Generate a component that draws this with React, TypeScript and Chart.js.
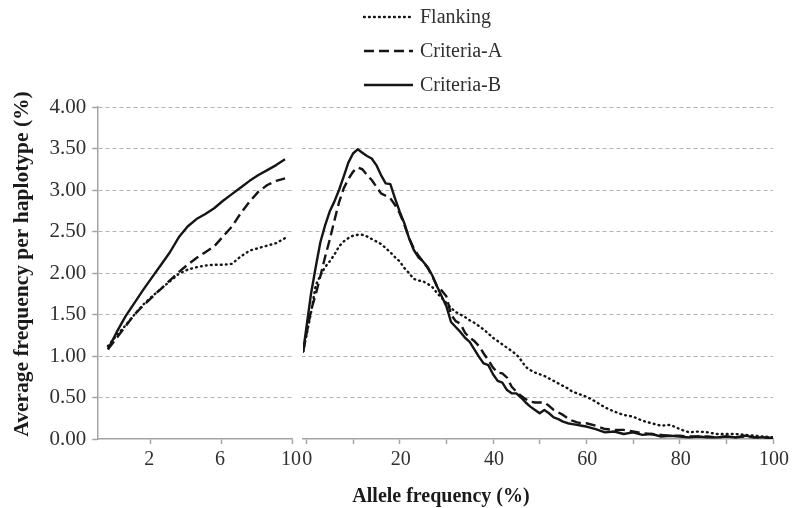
import React, { useEffect, useRef } from "react";
import { Chart, registerables } from "chart.js";

Chart.register(...registerables);

// ---------------- data ----------------
const SERIES_NAMES = ["Flanking", "Criteria-A", "Criteria-B"];

// left panel: allele frequency 0–10 %
const LEFT_X = [-0.4, 0.1, 0.6, 1.1, 1.6, 2.1, 2.6, 3.1, 3.6, 4.1, 4.6, 5.1, 5.6, 6.1, 6.6, 7.1, 7.6, 8.1, 8.6, 9.1, 9.6];
const LEFT_FLANKING = [1.12, 1.25, 1.37, 1.5, 1.62, 1.72, 1.81, 1.9, 1.99, 2.04, 2.07, 2.09, 2.1, 2.1, 2.11, 2.2, 2.27, 2.3, 2.33, 2.36, 2.42];
const LEFT_CRITERIA_A = [1.08, 1.22, 1.36, 1.5, 1.61, 1.71, 1.81, 1.91, 2.01, 2.1, 2.18, 2.25, 2.32, 2.44, 2.56, 2.72, 2.86, 2.98, 3.06, 3.11, 3.14];
const LEFT_CRITERIA_B = [1.08, 1.29, 1.48, 1.64, 1.8, 1.95, 2.1, 2.25, 2.43, 2.56, 2.65, 2.71, 2.78, 2.87, 2.95, 3.03, 3.11, 3.18, 3.24, 3.3, 3.37];

// right panel: allele frequency 0–100 %
const RIGHT_X = [-0.7, 1, 2, 3, 4, 5, 6, 7, 8, 9, 10, 11, 12, 13, 14, 15, 16, 17, 18, 19, 20, 21, 22, 23, 24, 25, 26, 27, 28, 29, 30, 31, 32, 33, 34, 35, 36, 37, 38, 39, 40, 41, 42, 43, 44, 45, 46, 47, 48, 49, 50, 51, 52, 53, 54, 55, 56, 57, 58, 59, 60, 62, 64, 66, 68, 70, 72, 74, 76, 78, 80, 82, 84, 86, 88, 90, 92, 94, 96, 98, 100];
const RIGHT_FLANKING = [1.05, 1.52, 1.85, 1.97, 2.07, 2.14, 2.22, 2.32, 2.38, 2.42, 2.45, 2.46, 2.46, 2.44, 2.41, 2.38, 2.35, 2.3, 2.25, 2.19, 2.14, 2.06, 2.0, 1.93, 1.91, 1.9, 1.87, 1.83, 1.76, 1.7, 1.64, 1.58, 1.53, 1.5, 1.47, 1.43, 1.4, 1.36, 1.32, 1.27, 1.22, 1.18, 1.14, 1.1, 1.06, 1.02, 0.95, 0.87, 0.83, 0.8, 0.78, 0.76, 0.73, 0.7, 0.67, 0.64, 0.61, 0.57, 0.55, 0.53, 0.51, 0.45, 0.38, 0.33, 0.29, 0.27, 0.22, 0.19, 0.16, 0.17, 0.12, 0.08, 0.09, 0.08, 0.06, 0.06, 0.06, 0.05, 0.04, 0.03, 0.02];
const RIGHT_CRITERIA_A = [1.05, 1.55, 1.74, 1.96, 2.19, 2.4, 2.63, 2.85, 3.02, 3.13, 3.22, 3.27, 3.25, 3.18, 3.12, 3.04, 2.96, 2.93, 2.9, 2.82, 2.72, 2.58, 2.42, 2.3, 2.21, 2.14, 2.06, 1.96, 1.84, 1.79, 1.72, 1.5, 1.42, 1.39, 1.28, 1.22, 1.18, 1.12, 1.03, 0.95, 0.86, 0.8, 0.79, 0.74, 0.63, 0.57, 0.52, 0.48, 0.45, 0.44, 0.44, 0.44, 0.4, 0.35, 0.32, 0.29, 0.25, 0.22, 0.2, 0.19, 0.19, 0.16, 0.12, 0.11, 0.11, 0.09, 0.07, 0.06, 0.05, 0.04, 0.04, 0.03, 0.03, 0.03, 0.02, 0.03, 0.02, 0.03, 0.02, 0.02, 0.01];
const RIGHT_CRITERIA_B = [1.05, 1.75, 2.07, 2.37, 2.57, 2.74, 2.86, 3.0, 3.16, 3.33, 3.44, 3.49, 3.45, 3.41, 3.38, 3.3, 3.18, 3.08, 3.07, 2.9, 2.74, 2.6, 2.42, 2.28, 2.19, 2.14, 2.07, 1.97, 1.84, 1.72, 1.6, 1.41, 1.35, 1.29, 1.22, 1.17, 1.08, 0.99, 0.91, 0.89, 0.78, 0.7, 0.68, 0.59, 0.55, 0.55, 0.5, 0.44, 0.39, 0.35, 0.31, 0.35, 0.31, 0.26, 0.24, 0.21, 0.19, 0.18, 0.17, 0.16, 0.15, 0.12, 0.08, 0.09, 0.06, 0.08, 0.05, 0.06, 0.03, 0.04, 0.03, 0.02, 0.03, 0.02, 0.02, 0.03, 0.02, 0.04, 0.02, 0.02, 0.01];

const LEFT_TICKS = [2, 6, 10];
const RIGHT_TICKS = [0, 10, 20, 30, 40, 50, 60, 70, 80, 90, 100];
const RIGHT_LABEL_STEP = 20;
const Y_TICKS = [0, 0.5, 1, 1.5, 2, 2.5, 3, 3.5, 4];

const X_TITLE = "Allele frequency (%)";
const Y_TITLE = "Average frequency per haplotype (%)";

// ---------------- styling ----------------
const SERIF = '"Liberation Serif", "Times New Roman", Times, serif';
const INK = "#151515";
const AXIS_GRAY = "#a4a4a4";
const GRID_GRAY = "#b4b4b4";
const TEXT = "#303030";
const DASHES = [[0.8, 4.2], [10, 5], []];
const CAPS = ["round", "butt", "butt"];
const LINE_W = 2.4;

function pts(xs: number[], ys: number[]) {
  return xs.map((x, i) => ({ x, y: ys[i] }));
}

function lineDataset(label: string, xs: number[], ys: number[], axis: string, idx: number) {
  return {
    label,
    data: pts(xs, ys),
    xAxisID: axis,
    yAxisID: "y",
    showLine: true,
    borderColor: INK,
    backgroundColor: INK,
    borderWidth: LINE_W,
    borderDash: DASHES[idx],
    borderCapStyle: CAPS[idx],
    borderJoinStyle: "round",
    pointRadius: 0,
    pointHoverRadius: 0,
    tension: 0,
    fill: false,
  };
}

const decorPlugin = {
  id: "decor",
  beforeDatasetsDraw(chart: any) {
    const { ctx, chartArea, scales } = chart;
    const l = scales.xL.right + 1.2;
    const r = scales.xR.left - 1.2;
    ctx.save();
    ctx.fillStyle = "#ffffff";
    ctx.fillRect(l, chartArea.top - 3, r - l, chartArea.bottom - chartArea.top + 2);
    ctx.restore();
  },
  afterDraw(chart: any) {
    const { ctx, chartArea } = chart;
    ctx.save();
    // legend (vertical list)
    ctx.font = `20px ${SERIF}`;
    ctx.textBaseline = "middle";
    ctx.textAlign = "left";
    SERIES_NAMES.forEach((name, i) => {
      const y = 17 + i * 34;
      ctx.beginPath();
      ctx.setLineDash(DASHES[i]);
      ctx.lineCap = CAPS[i] as CanvasLineCap;
      ctx.lineWidth = LINE_W;
      ctx.strokeStyle = INK;
      ctx.moveTo(364, y);
      ctx.lineTo(413, y);
      ctx.stroke();
      ctx.setLineDash([]);
      ctx.fillStyle = TEXT;
      ctx.fillText(name, 420, y + 1);
    });
    // axis titles
    ctx.fillStyle = "#1a1a1a";
    ctx.font = `bold 20px ${SERIF}`;
    ctx.textAlign = "center";
    ctx.textBaseline = "middle";
    ctx.fillText(X_TITLE, 441, 497);
    ctx.font = `bold 21.5px ${SERIF}`;
    ctx.translate(22, (chartArea.top + chartArea.bottom) / 2 - 9);
    ctx.rotate(-Math.PI / 2);
    ctx.fillText(Y_TITLE, 0, 0);
    ctx.restore();
  },
};

const yTickFont = { family: SERIF, size: 21 };
const xTickFont = { family: SERIF, size: 20 };

export default function App() {
  const ref = useRef<HTMLCanvasElement | null>(null);

  useEffect(() => {
    if (!ref.current) return;
    const datasets = [
      lineDataset(SERIES_NAMES[0], LEFT_X, LEFT_FLANKING, "xL", 0),
      lineDataset(SERIES_NAMES[1], LEFT_X, LEFT_CRITERIA_A, "xL", 1),
      lineDataset(SERIES_NAMES[2], LEFT_X, LEFT_CRITERIA_B, "xL", 2),
      lineDataset(SERIES_NAMES[0], RIGHT_X, RIGHT_FLANKING, "xR", 0),
      lineDataset(SERIES_NAMES[1], RIGHT_X, RIGHT_CRITERIA_A, "xR", 1),
      lineDataset(SERIES_NAMES[2], RIGHT_X, RIGHT_CRITERIA_B, "xR", 2),
    ];
    const xCommon = {
      type: "linear",
      position: "bottom",
      stack: "x",
      afterFit: (s: any) => {
        s.height = 69;
      },
      grid: {
        display: true,
        drawOnChartArea: false,
        drawTicks: true,
        tickLength: 5,
        color: AXIS_GRAY,
        tickColor: AXIS_GRAY,
        tickWidth: 1.5,
      },
      border: { display: true, color: AXIS_GRAY, width: 1.5 },
    };
    const chart = new Chart(ref.current, {
      type: "scatter",
      data: { datasets } as any,
      plugins: [decorPlugin],
      options: {
        responsive: false,
        animation: false,
        events: [],
        layout: { padding: { top: 107, right: 18.3, bottom: 0, left: 0 } },
        plugins: { legend: { display: false }, tooltip: { enabled: false }, title: { display: false } },
        scales: {
          xL: {
            ...xCommon,
            stackWeight: 195,
            min: -1,
            max: 10,
            afterBuildTicks: (s: any) => {
              s.ticks = LEFT_TICKS.map((v) => ({ value: v }));
            },
            ticks: {
              font: xTickFont,
              color: TEXT,
              padding: 4,
              labelOffset: -1.2,
              autoSkip: false,
              maxRotation: 0,
              callback: (v: any) => String(v),
            },
          },
          xGap: {
            type: "linear",
            position: "bottom",
            stack: "x",
            stackWeight: 11,
            min: 0,
            max: 1,
            afterFit: (s: any) => {
              s.height = 69;
            },
            grid: { display: false },
            border: { display: false },
            ticks: { display: false },
          },
          xR: {
            ...xCommon,
            stackWeight: 470.4,
            min: -0.7,
            max: 100,
            afterBuildTicks: (s: any) => {
              s.ticks = RIGHT_TICKS.map((v) => ({ value: v }));
            },
            ticks: {
              font: xTickFont,
              color: TEXT,
              padding: 4,
              labelOffset: 1,
              autoSkip: false,
              maxRotation: 0,
              callback: (v: any) => (Number(v) % RIGHT_LABEL_STEP === 0 ? String(v) : ""),
            },
          },
          y: {
            type: "linear",
            position: "left",
            min: 0,
            max: 4,
            afterBuildTicks: (s: any) => {
              s.ticks = Y_TICKS.map((v) => ({ value: v }));
            },
            afterFit: (s: any) => {
              s.width = 97.3;
            },
            ticks: {
              font: yTickFont,
              color: TEXT,
              padding: 6,
              callback: (v: any) => Number(v).toFixed(2),
            },
            grid: {
              color: (c: any) => (c.tick && c.tick.value === 0 ? "rgba(0,0,0,0)" : GRID_GRAY),
              lineWidth: 1,
              borderDash: [4, 3],
              tickLength: 5,
              tickColor: AXIS_GRAY,
              tickWidth: 1.5,
              tickBorderDash: [],
            },
            border: { display: true, color: AXIS_GRAY, width: 1.5, dash: [4, 3] },
          },
        },
      } as any,
    });
    return () => chart.destroy();
  }, []);

  return (
    <div style={{ position: "fixed", left: 0, top: 0, width: 792, height: 508, background: "#fff" }}>
      <canvas ref={ref} width={792} height={508} style={{ display: "block" }} />
    </div>
  );
}
